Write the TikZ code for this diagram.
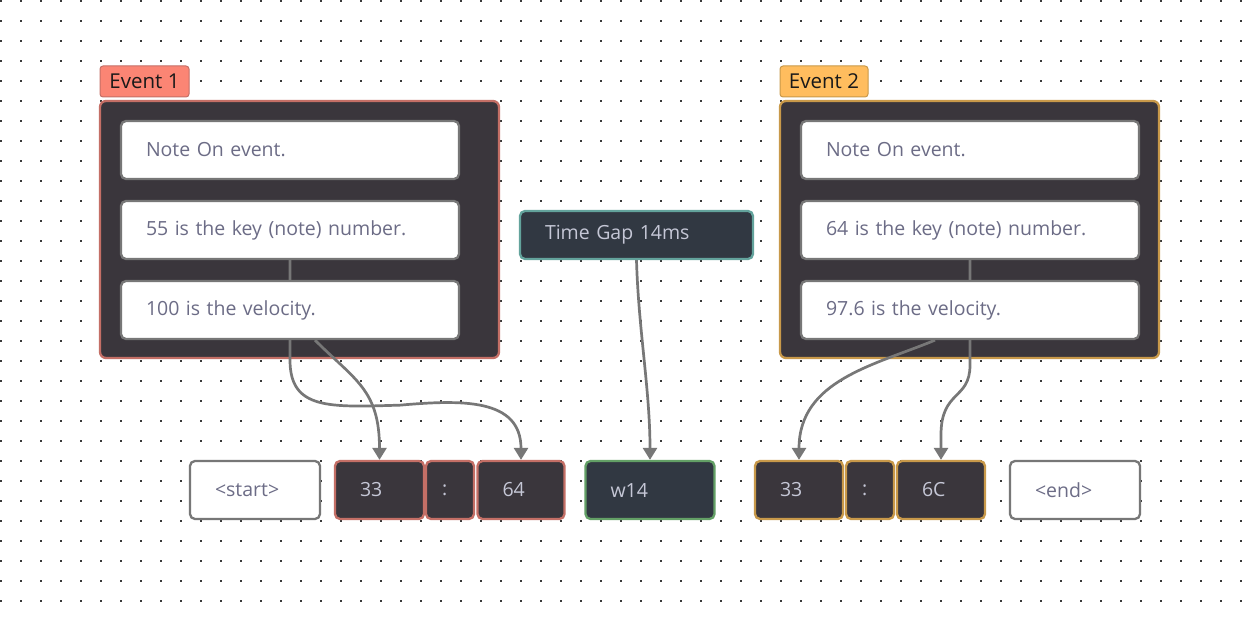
\documentclass[tikz,border=0pt]{standalone}
\usepackage{fontspec}
\setmainfont{Open Sans}
\usetikzlibrary{arrows.meta,calc}
\pgfdeclarelayer{dots}
\pgfdeclarelayer{cont}
\pgfdeclarelayer{lines}
\pgfsetlayers{dots,cont,lines,main}
\definecolor{contfill}{HTML}{3A363C}
\definecolor{eone}{HTML}{C46F66}
\definecolor{eonelab}{HTML}{FB8574}
\definecolor{etwo}{HTML}{C8994A}
\definecolor{etwolab}{HTML}{FFBD5E}
\definecolor{tgfill}{HTML}{313842}
\definecolor{tgborder}{HTML}{63A39C}
\definecolor{wborder}{HTML}{63A066}
\definecolor{grayb}{HTML}{777777}
\definecolor{wtext}{HTML}{6C6C86}
\definecolor{dtext}{HTML}{C5C7D6}
\definecolor{dotc}{HTML}{3A3A3A}
\tikzset{
  base/.style={rounded corners=5pt, line width=2.3pt, inner ysep=0pt, font=\fontsize{19.5}{22}\selectfont},
  whitebox/.style={base, draw=grayb, fill=white, text=wtext, inner xsep=25pt, align=left},
  darkbox/.style={base, fill=contfill, text=dtext, inner xsep=25pt, align=left},
  container/.style={rounded corners=6pt, line width=2.3pt, fill=contfill},
  evlabel/.style={rounded corners=3pt, line width=1pt, minimum width=89pt, minimum height=31pt, inner sep=0pt, text=black!90, font=\fontsize{20.5}{23}\selectfont},
  conn/.style={draw=grayb, line width=2.7pt, -{Triangle[width=14pt,length=12pt]}},
}
\begin{document}
\begin{tikzpicture}[x=1pt,y=-1pt]
\useasboundingbox (0,0) rectangle (1260,620);
\begin{pgfonlayer}{dots}
\fill[white] (0,0) rectangle (1260,620);
\foreach \i in {0,...,62} {
  \foreach \j in {0,...,30} {
    \fill[dotc] (\i*20,\j*20) rectangle ++(1.7,1.7);
  }
}
\end{pgfonlayer}
% containers
\begin{pgfonlayer}{cont}
\node[container, draw=eone, minimum width=399pt, minimum height=257pt, inner sep=0pt] (c1) at (299.5,229.5) {};
\node[container, draw=etwo, minimum width=379pt, minimum height=257pt, inner sep=0pt] (c2) at (969.5,229.5) {};
\end{pgfonlayer}
% labels
\node[evlabel, fill=eonelab, draw=eone] (l1) at (144.5,81.5) {Event 1};
\node[evlabel, fill=etwolab, draw=etwo, minimum width=88pt] (l2) at (824,81.5) {Event 2};
% event 1 inner boxes
\node[whitebox, text width=288pt, minimum height=58pt] (n1) at (290,150) {Note On event.};
\node[whitebox, text width=288pt, minimum height=58pt] (k1) at (290,230) {55 is the key (note) number.};
\node[whitebox, text width=288pt, minimum height=58pt] (v1) at (290,310) {100 is the velocity.};
% event 2 inner boxes
\node[whitebox, text width=288pt, minimum height=58pt] (n2) at (970,150) {Note On event.};
\node[whitebox, text width=288pt, minimum height=58pt] (k2) at (970,230) {64 is the key (note) number.};
\node[whitebox, text width=288pt, minimum height=58pt] (v2) at (970,310) {97.6 is the velocity.};
% time gap
\node[darkbox, fill=tgfill, draw=tgborder, text width=183pt, minimum height=48pt] (tg) at (636.5,235) {Time Gap 14ms};
% bottom row
\node[whitebox, text width=80pt, minimum height=58pt] (st) at (255,490) {<start>};
\node[darkbox, draw=eone, text width=39pt, minimum height=58pt] (a33) at (379.5,490) {33};
\node[darkbox, draw=eone, text width=16pt, inner xsep=16pt, minimum height=58pt] (acol) at (450,490) {:};
\node[darkbox, draw=eone, text width=37pt, minimum height=58pt] (a64) at (521,490) {64};
\node[darkbox, fill=tgfill, draw=wborder, text width=79pt, minimum height=58pt] (w14) at (650,490) {w14};
\node[darkbox, draw=etwo, text width=38pt, minimum height=58pt] (b33) at (799,490) {33};
\node[darkbox, draw=etwo, text width=16pt, inner xsep=16pt, minimum height=58pt] (bcol) at (870,490) {:};
\node[darkbox, draw=etwo, text width=38pt, minimum height=58pt] (b6c) at (941,490) {6C};
\node[whitebox, text width=80pt, minimum height=58pt] (en) at (1075,490) {<end>};
% connectors
\begin{pgfonlayer}{lines}
\draw[conn] (k1.south) -- ++(0,100) .. controls ($(k1.south)+(0,150)$) and ($(k1.south)+(40,147)$) .. ($(k1.south)+(110,145)$) .. controls ($(a64.north)+(-60,-60)$) and ($(a64.north)+(0,-62)$) .. (a64.north);
\draw[conn] ($(v1.south)+(25,0)$) .. controls ($(v1.south)+(65,40)$) and ($(a33.north)+(0,-70)$) .. (a33.north);
\draw[conn] (tg.south) .. controls ($(tg.south)+(2,70)$) and ($(w14.north)+(0,-70)$) .. (w14.north);
\draw[conn] (k2.south) -- ++(0,105) .. controls ($(k2.south)+(0,140)$) and ($(b6c.north)+(0,-70)$) .. ($(b6c.north)+(0,-25)$) -- (b6c.north);
\draw[conn] ($(v2.south)+(-35,0)$) .. controls ($(v2.south)+(-95,25)$) and ($(b33.north)+(0,-80)$) .. (b33.north);
\end{pgfonlayer}
\end{tikzpicture}
\end{document}
